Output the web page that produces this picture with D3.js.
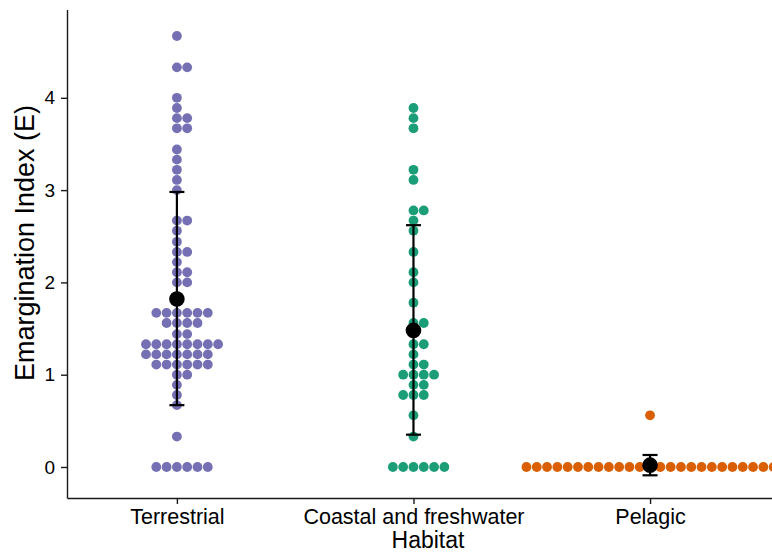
<!DOCTYPE html>
<html>
<head>
<meta charset="utf-8">
<script src="https://cdn.jsdelivr.net/npm/d3@7"></script>
<style>
  body { margin: 0; background: #fff; }
  text { font-family: "Liberation Sans", Arial, sans-serif; }
</style>
</head>
<body>
<div id="chart"></div>
<script>
// data (dot values binned at ~1/9)
const habitats = ["Terrestrial", "Coastal and freshwater", "Pelagic"];
const colors = ["#7570b3", "#1b9e77", "#d95f02"];

const terrestrial = [
  4.67, 4.33, 4.33, 4.00, 3.89, 3.78, 3.78, 3.67, 3.67, 3.44, 3.33, 3.22, 3.11, 3.00,
  2.67, 2.67, 2.56, 2.44, 2.33, 2.33, 2.22, 2.11, 2.11, 2.00, 2.00,
  1.67, 1.67, 1.67, 1.67, 1.67, 1.67,
  1.56, 1.56, 1.56, 1.56,
  1.44, 1.44,
  1.33, 1.33, 1.33, 1.33, 1.33, 1.33, 1.33, 1.33,
  1.22, 1.22, 1.22, 1.22, 1.22, 1.22, 1.22,
  1.11, 1.11, 1.11, 1.11, 1.11, 1.11,
  1.00, 1.00, 0.89, 0.78, 0.67, 0.33,
  0, 0, 0, 0, 0, 0
];
const coastal = [
  3.89, 3.78, 3.67, 3.22, 3.11, 2.78, 2.78, 2.67, 2.56, 2.33, 2.11, 2.00, 1.78,
  1.56, 1.56, 1.33, 1.33, 1.22, 1.11, 1.11, 1.00, 1.00, 1.00, 1.00,
  0.89, 0.89, 0.78, 0.78, 0.78, 0.56, 0.33,
  0, 0, 0, 0, 0, 0
];
const pelagic = [
  0.56,
  0, 0, 0, 0, 0, 0, 0, 0, 0, 0, 0, 0, 0, 0, 0, 0, 0, 0, 0, 0, 0, 0, 0, 0, 0, 0
];

// mean and mean +/- SD per habitat
const means = [1.82, 1.48, 0.02];
const lower = [0.67, 0.35, -0.09];
const upper = [2.98, 2.62, 0.13];

const yTicks = [0, 1, 2, 3, 4];

const width = 772, height = 558;
const dotStep = 10.3, dotR = 4.9;

const svg = d3.select("#chart").append("svg")
  .attr("width", width)
  .attr("height", height);

const x = d3.scalePoint()
  .domain(habitats)
  .range([67, 772])
  .padding(0.49)
  .align(0.474);

const y = d3.scaleLinear()
  .domain([-0.336, 4.957])
  .range([498, 9.5]);

// dots, stacked "centerwhole" like ggplot's dotplot
const groups = [terrestrial, coastal, pelagic];
groups.forEach(function(vals, i) {
  const bins = d3.groups(vals, d => d);
  const pts = [];
  bins.forEach(function([v, arr]) {
    const n = arr.length;
    const shift = Math.floor((n - 1) / 2);
    arr.forEach(function(d, k) {
      pts.push({ v: v, off: k - shift });
    });
  });
  svg.append("g").selectAll("circle")
    .data(pts)
    .enter().append("circle")
    .attr("cx", d => x(habitats[i]) + d.off * dotStep)
    .attr("cy", d => y(d.v))
    .attr("r", dotR)
    .attr("fill", colors[i]);
});

// error bars
const eb = svg.append("g").attr("stroke", "#000").attr("stroke-width", 2.2);
habitats.forEach(function(h, i) {
  const cx = x(h);
  eb.append("line").attr("x1", cx).attr("x2", cx).attr("y1", y(lower[i])).attr("y2", y(upper[i]));
  eb.append("line").attr("x1", cx - 7.5).attr("x2", cx + 7.5).attr("y1", y(lower[i])).attr("y2", y(lower[i]));
  eb.append("line").attr("x1", cx - 7.5).attr("x2", cx + 7.5).attr("y1", y(upper[i])).attr("y2", y(upper[i]));
});

svg.append("g").selectAll("circle")
  .data(means)
  .enter().append("circle")
  .attr("cx", (d, i) => x(habitats[i]))
  .attr("cy", d => y(d))
  .attr("r", 7.8)
  .attr("fill", "#000");

// axes
const yAxis = svg.append("g")
  .attr("transform", "translate(67,0)")
  .call(d3.axisLeft(y).tickValues(yTicks).tickFormat(d3.format("d"))
    .tickSize(6).tickSizeOuter(0).tickPadding(6));

const xAxis = svg.append("g")
  .attr("transform", "translate(0,498)")
  .call(d3.axisBottom(x).tickSize(6).tickSizeOuter(0).tickPadding(5));

[yAxis, xAxis].forEach(function(g) {
  g.select(".domain").attr("stroke", "#1a1a1a").attr("stroke-width", 1.4);
  g.selectAll(".tick line").attr("stroke", "#1a1a1a").attr("stroke-width", 1.4);
  g.selectAll(".tick text").attr("fill", "#000");
});
yAxis.selectAll(".tick text").attr("font-size", 19);
xAxis.selectAll(".tick text").attr("font-size", 21.5);

svg.append("text")
  .attr("x", 428)
  .attr("y", 548)
  .attr("text-anchor", "middle")
  .attr("font-size", 23)
  .text("Habitat");

svg.append("text")
  .attr("transform", "translate(34,243) rotate(-90)")
  .attr("text-anchor", "middle")
  .attr("font-size", 27)
  .text("Emargination Index (E)");
</script>
</body>
</html>
